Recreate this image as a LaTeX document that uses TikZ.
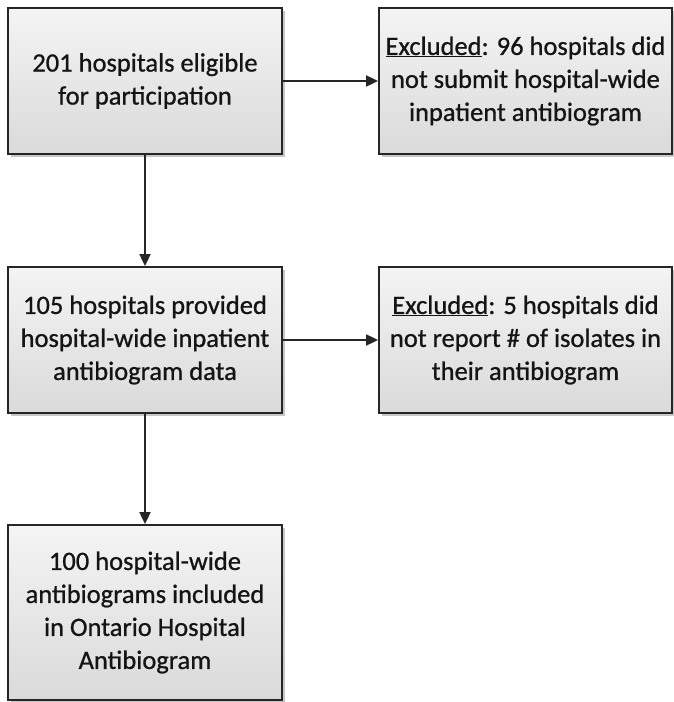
\documentclass[tikz,border=0pt]{standalone}
\usepackage{fontspec}
\setmainfont{Carlito}[FakeBold=0.8]
\newfontfamily\boxfont{Carlito}[FakeBold=0.8,AutoFakeBold=0.8]
\usetikzlibrary{arrows.meta,shadows}
\definecolor{boxtop}{HTML}{F4F4F4}
\definecolor{boxbot}{HTML}{DADADA}
\definecolor{edge}{HTML}{262626}
\tikzset{
  flowbox/.style={draw=edge, line width=1.8pt, top color=boxtop, bottom color=boxbot,
    align=center, inner sep=2pt, text=black!92, font=\fontsize{26.5}{33}\selectfont,
    drop shadow={shadow xshift=2.5pt, shadow yshift=-2.5pt, opacity=0.22, fill=black}},
  flowarrow/.style={draw=black!85, line width=1.8pt, -{Triangle[width=11pt,length=12pt]}}
}
\begin{document}
\begin{tikzpicture}[x=1pt,y=-1pt]
\useasboundingbox (0,0) rectangle (674,702);
\node[flowbox, minimum width=274pt, minimum height=146pt] (elig) at (145,81)
  {201 hospitals eligible\\for participation};
\node[flowbox, minimum width=293pt, minimum height=146pt] (exc1) at (525.5,81)
  {\underline{Excluded}: 96 hospitals did\\not submit hospital-wide\\inpatient antibiogram};
\node[flowbox, minimum width=274pt, minimum height=146pt] (prov) at (145,340)
  {105 hospitals provided\\hospital-wide inpatient\\antibiogram data};
\node[flowbox, minimum width=293pt, minimum height=146pt] (exc2) at (525.5,340)
  {\underline{Excluded}: 5 hospitals did\\not report \# of isolates in\\their antibiogram};
\node[flowbox, minimum width=274pt, minimum height=175pt] (incl) at (145,612.5)
  {100 hospital-wide\\antibiograms included\\in Ontario Hospital\\Antibiogram};
\draw[flowarrow] (elig) -- (exc1);
\draw[flowarrow] (elig) -- (prov);
\draw[flowarrow] (prov) -- (exc2);
\draw[flowarrow] (prov) -- (incl);
\end{tikzpicture}
\end{document}
